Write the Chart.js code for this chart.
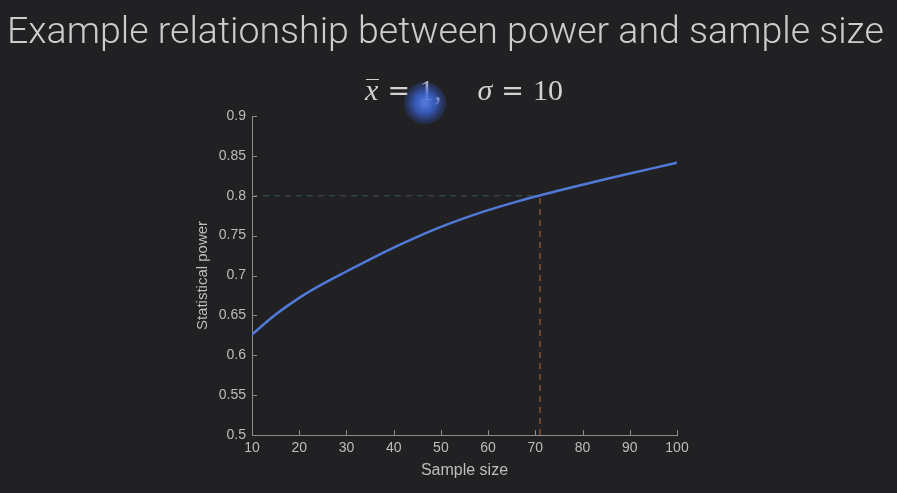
<!DOCTYPE html>
<html>
<head>
<meta charset="utf-8">
<script src="https://cdn.jsdelivr.net/npm/chart.js@4/dist/chart.umd.min.js"></script>
<style>
  html, body { margin: 0; padding: 0; background: #212123; }
  #wrap { position: relative; width: 897px; height: 493px; overflow: hidden; background: #212123; }
  #title { position: absolute; left: -3px; top: 11px; width: 897px; text-align: center;
           font-family: Roboto, sans-serif; font-weight: 300; font-size: 37.5px; line-height: 38px;
           color: #cdcdcd; white-space: nowrap; }
  #sub { position: absolute; left: 0; top: 75px; width: 928px; text-align: center;
         font-family: "Liberation Serif", "DejaVu Serif", serif; font-size: 30px; line-height: 30px;
         color: #d2d2d2; white-space: nowrap; }
  #sub .op { font-family: "DejaVu Serif", serif; font-size: 27px; margin: 0 9px; }
  #sub .gap { display: inline-block; width: 36px; }
  .xbar { position: relative; font-style: italic; }
  .xbar::before { content: ''; position: absolute; left: 1px; right: -1px; top: 6px; border-top: 1.5px solid #d2d2d2; }
  #glow { position: absolute; left: 404px; top: 82px; width: 42px; height: 42px; border-radius: 50%;
          background: radial-gradient(circle, rgba(90,130,235,0.95) 0%, rgba(60,100,210,0.85) 32%, rgba(50,80,180,0.35) 62%, rgba(40,60,140,0) 100%); }
  canvas { position: absolute; left: 0; top: 0; }
</style>
</head>
<body>
<div id="wrap">
  <canvas id="c" width="897" height="493"></canvas>
  <div id="title">Example relationship between power and sample size</div>
  <div id="sub"><span class="xbar">x</span><span class="op">=</span>1,<span class="gap"></span><i>σ</i><span class="op">=</span>10</div>
  <div id="glow"></div>
</div>
<script>
const sampleSizes = [10, 15, 20, 25, 30, 35, 40, 45, 50, 55, 60, 65, 70, 75, 80, 85, 90, 95, 100];
const powerValues = [0.626, 0.651, 0.672, 0.6895, 0.705, 0.7203, 0.735, 0.7485, 0.761, 0.772, 0.782, 0.7908, 0.799, 0.8065, 0.8138, 0.8209, 0.8278, 0.8346, 0.8413];
const targetPower = 0.8;
const requiredN = 71;
const xTickValues = [10, 20, 30, 40, 50, 60, 70, 80, 90, 100];
const yTickLabels = ['0.5', '0.55', '0.6', '0.65', '0.7', '0.75', '0.8', '0.85', '0.9'];
const xTitle = 'Sample size';
const yTitle = 'Statistical power';

const curve = sampleSizes.map((n, i) => ({ x: n, y: powerValues[i] }));
const hLine = [{ x: sampleSizes[0], y: targetPower }, { x: requiredN, y: targetPower }];
const vLine = [{ x: requiredN, y: 0.5 }, { x: requiredN, y: targetPower }];

const axisColor = '#8c8c8c';
const labelColor = '#bdbdbd';

const inwardTicks = {
  id: 'inwardTicks',
  afterDatasetsDraw(chart) {
    const { ctx, scales: { x, y } } = chart;
    ctx.save();
    ctx.strokeStyle = axisColor;
    ctx.lineWidth = 1;
    ctx.beginPath();
    x.ticks.forEach(t => {
      const px = Math.round(x.getPixelForValue(t.value)) + 0.5;
      ctx.moveTo(px, y.bottom);
      ctx.lineTo(px, y.bottom - 5);
    });
    y.ticks.forEach(t => {
      const py = Math.round(y.getPixelForValue(t.value)) + 0.5;
      ctx.moveTo(x.left, py);
      ctx.lineTo(x.left + 5, py);
    });
    ctx.stroke();
    ctx.restore();
  }
};

new Chart(document.getElementById('c'), {
  type: 'line',
  data: {
    datasets: [
      { data: hLine, borderColor: '#38574f', borderWidth: 1.2, borderDash: [6, 5], pointRadius: 0, order: 2 },
      { data: vLine, borderColor: '#a05a3a', borderWidth: 1.2, borderDash: [6, 5], pointRadius: 0, order: 2 },
      { data: curve, borderColor: '#5079d8', borderWidth: 2.5, pointRadius: 0, cubicInterpolationMode: 'monotone', order: 1 }
    ]
  },
  options: {
    responsive: false,
    animation: false,
    events: [],
    layout: { padding: { left: 190, top: 116, right: 220, bottom: 9 } },
    plugins: { legend: { display: false }, tooltip: { enabled: false }, title: { display: false } },
    scales: {
      x: {
        type: 'linear', min: 10, max: 100,
        afterBuildTicks: s => { s.ticks = xTickValues.map(v => ({ value: v })); },
        afterFit: s => { s.height = 49; },
        grid: { display: false, drawTicks: false },
        border: { display: true, color: axisColor, width: 1 },
        ticks: { color: labelColor, font: { family: 'Liberation Sans, Arial, sans-serif', size: 14 }, padding: 5, maxRotation: 0 },
        title: { display: true, text: xTitle, color: labelColor, font: { family: 'Liberation Sans, Arial, sans-serif', size: 16 }, padding: 4 }
      },
      y: {
        type: 'linear', min: 0.5, max: 0.9,
        afterBuildTicks: s => { s.ticks = yTickLabels.map(v => ({ value: parseFloat(v) })); },
        afterFit: s => { s.width = 62; },
        grid: { display: false, drawTicks: false },
        border: { display: true, color: axisColor, width: 1 },
        ticks: {
          color: labelColor, font: { family: 'Liberation Sans, Arial, sans-serif', size: 14 }, padding: 6,
          callback: (v, i) => yTickLabels[i]
        },
        title: { display: true, text: yTitle, color: labelColor, font: { family: 'Liberation Sans, Arial, sans-serif', size: 15 }, padding: 4 }
      }
    }
  },
  plugins: [inwardTicks]
});
</script>
</body>
</html>
